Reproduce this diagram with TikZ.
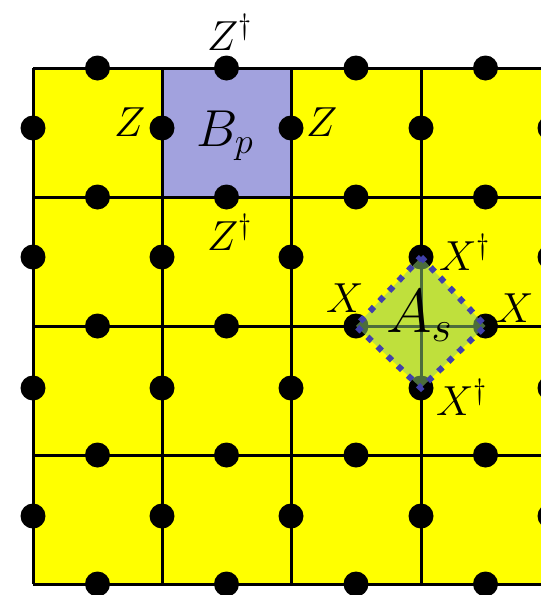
\RequirePackage{fix-cm}
\documentclass[tikz,border=0pt]{standalone}
\definecolor{plaqblue}{RGB}{162,162,222}
\definecolor{diamgreen}{RGB}{140,200,110}
\definecolor{dotblue}{RGB}{65,65,170}
\definecolor{cellyellow}{RGB}{255,255,0}
\tikzset{
  gridline/.style={line width=3pt, black},
  qubit/.style={circle, fill=black, inner sep=0pt, minimum size=25pt},
  lbl/.style={inner sep=0pt, anchor=base west, font=\fontsize{42}{48}\selectfont},
  biglbl/.style={inner sep=0pt, anchor=base west, font=\fontsize{52}{60}\selectfont},
  hugelbl/.style={inner sep=0pt, anchor=base west, font=\fontsize{62}{70}\selectfont},
  starfill/.style={fill=diamgreen, fill opacity=0.55},
  starborder/.style={draw=dotblue, line width=6pt, dash pattern=on 6pt off 8pt}
}
\begin{document}
\begin{tikzpicture}[x=1pt,y=-1pt]
\useasboundingbox (0,0) rectangle (541,595);
\clip (0,0) rectangle (541,595);
% cells
\fill[cellyellow] (33,68) rectangle (560,584);
\fill[plaqblue] (162,68) rectangle (291,197);
% grid
\foreach \x in {33,162,291,421,550} \draw[gridline] (\x,68) -- (\x,584);
\foreach \y in {68,197,326,455,584} \draw[gridline] (33,\y) -- (550,\y);
% qubits on horizontal edges
\foreach \x [count=\i] in {97.5,226.5,356,485.5}
  \foreach \y [count=\j] in {68,197,326,455,584}
    \node[qubit] (h\i\j) at (\x,\y) {};
% qubits on vertical edges
\foreach \x [count=\i] in {33,162,291,421,550}
  \foreach \y [count=\j] in {128,257,388,516}
    \node[qubit] (v\i\j) at (\x,\y) {};
% star operator
\fill[starfill] (v42.center) -- (h43.center) -- (v43.center) -- (h33.center) -- cycle;
\draw[starborder] (v42.center) -- (h43.center) -- (v43.center) -- (h33.center) -- cycle;
% labels
\node[lbl] (zt) at (207,50) {$Z^\dagger$};
\node[lbl] (zl) at (114,136) {$Z$};
\node[lbl] (zr) at (306,136) {$Z$};
\node[lbl] (zb) at (207,250) {$Z^\dagger$};
\node[biglbl] (bp) at (196,146) {$B_p$};
\node[hugelbl] (as) at (386,332) {$A_s$};
\node[lbl] (xl) at (326,312) {$X$};
\node[lbl] (xr) at (496,322) {$X$};
\node[lbl] (xt) at (439,270) {$X^\dagger$};
\node[lbl] (xb) at (436,415) {$X^\dagger$};
\end{tikzpicture}
\end{document}
